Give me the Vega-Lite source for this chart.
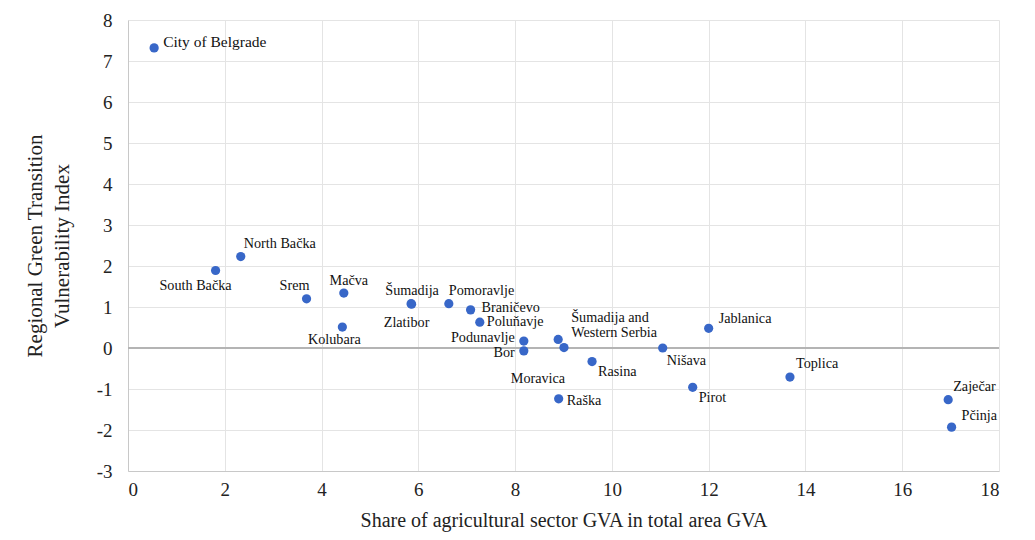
{
  "$schema": "https://vega.github.io/schema/vega-lite/v6.json",
  "width": 871,
  "height": 451,
  "autosize": "none",
  "padding": {"left": 128, "top": 20, "right": 36, "bottom": 69},
  "background": "white",
  "config": {
    "view": {"stroke": null},
    "font": "Liberation Serif",
    "text": {"font": "Liberation Serif", "fontSize": 14.2, "color": "#111"},
    "axis": {
      "labelFont": "Liberation Serif",
      "titleFont": "Liberation Serif",
      "labelColor": "#222",
      "titleColor": "#222",
      "titleFontWeight": "normal",
      "gridColor": "#e4e4e4",
      "domainColor": "#c8c8c8",
      "ticks": false
    }
  },
  "data": {
    "values": [
      {"name": "City of Belgrade", "x": 0.54, "y": 7.32},
      {"name": "North Bačka", "x": 2.33, "y": 2.23},
      {"name": "South Bačka", "x": 1.81, "y": 1.89},
      {"name": "Srem", "x": 3.69, "y": 1.2},
      {"name": "Mačva", "x": 4.46, "y": 1.34},
      {"name": "Kolubara", "x": 4.43, "y": 0.51},
      {"name": "Šumadija", "x": 5.85, "y": 1.08},
      {"name": "Zlatibor", "x": 5.86, "y": 1.07},
      {"name": "Pomoravlje", "x": 6.63, "y": 1.08},
      {"name": "Braničevo", "x": 7.08, "y": 0.93},
      {"name": "Poluňavje", "x": 7.27, "y": 0.63},
      {"name": "Podunavlje", "x": 8.18, "y": 0.17},
      {"name": "Bor", "x": 8.18, "y": -0.07},
      {"name": "Šumadija and\nWestern Serbia", "x": 8.89, "y": 0.21},
      {"name": "Moravica", "x": 9.01, "y": 0.01},
      {"name": "Raška", "x": 8.9, "y": -1.24},
      {"name": "Rasina", "x": 9.59, "y": -0.33},
      {"name": "Nišava", "x": 11.05, "y": 0.0},
      {"name": "Jablanica", "x": 12.0, "y": 0.48},
      {"name": "Pirot", "x": 11.67, "y": -0.96},
      {"name": "Toplica", "x": 13.68, "y": -0.71},
      {"name": "Zaječar", "x": 16.95, "y": -1.26},
      {"name": "Pčinja", "x": 17.02, "y": -1.93}
    ]
  },
  "encoding": {
    "x": {
      "field": "x", "type": "quantitative",
      "scale": {"domain": [0, 18], "nice": false, "zero": false},
      "axis": {"values": [0, 2, 4, 6, 8, 10, 12, 14, 16, 18], "labelFontSize": 19, "labelPadding": 9, "title": "Share of agricultural sector GVA in total area GVA", "titleFontSize": 20, "titlePadding": 11}
    },
    "y": {
      "field": "y", "type": "quantitative",
      "scale": {"domain": [-3, 8], "nice": false, "zero": false},
      "axis": {"values": [-3, -2, -1, 0, 1, 2, 3, 4, 5, 6, 7, 8], "labelExpr": "'' + datum.value", "labelFontSize": 19, "labelPadding": 16, "title": ["Regional Green Transition", "Vulnerability Index"], "titleFontSize": 21, "titlePadding": 24, "titleLineHeight": 27}
    }
  },
  "layer": [
    {"mark": {"type": "rule", "color": "#b5b5b5", "strokeWidth": 1.5}, "encoding": {"y": {"datum": 0}, "x": null}},
    {"mark": {"type": "circle", "size": 85, "color": "#3867c8", "opacity": 1}},
    {"transform": [{"filter": {"field": "name", "equal": "City of Belgrade"}}], "mark": {"type": "text", "align": "left", "baseline": "middle", "dx": 9, "dy": -6, "fontSize": 15.5}, "encoding": {"text": {"field": "name"}}},
    {"transform": [{"filter": {"field": "name", "equal": "North Bačka"}}], "mark": {"type": "text", "align": "left", "baseline": "middle", "dx": 3, "dy": -13}, "encoding": {"text": {"field": "name"}}},
    {"transform": [{"filter": {"field": "name", "equal": "South Bačka"}}], "mark": {"type": "text", "align": "right", "baseline": "middle", "dx": 16, "dy": 15}, "encoding": {"text": {"field": "name"}}},
    {"transform": [{"filter": {"field": "name", "equal": "Srem"}}], "mark": {"type": "text", "align": "right", "baseline": "middle", "dx": 3, "dy": -13}, "encoding": {"text": {"field": "name"}}},
    {"transform": [{"filter": {"field": "name", "equal": "Mačva"}}], "mark": {"type": "text", "align": "center", "baseline": "middle", "dx": 5, "dy": -12}, "encoding": {"text": {"field": "name"}}},
    {"transform": [{"filter": {"field": "name", "equal": "Kolubara"}}], "mark": {"type": "text", "align": "center", "baseline": "middle", "dx": -8, "dy": 13}, "encoding": {"text": {"field": "name"}}},
    {"transform": [{"filter": {"field": "name", "equal": "Šumadija"}}], "mark": {"type": "text", "align": "center", "baseline": "middle", "dx": 1, "dy": -13}, "encoding": {"text": {"field": "name"}}},
    {"transform": [{"filter": {"field": "name", "equal": "Zlatibor"}}], "mark": {"type": "text", "align": "center", "baseline": "middle", "dx": -5, "dy": 19}, "encoding": {"text": {"field": "name"}}},
    {"transform": [{"filter": {"field": "name", "equal": "Pomoravlje"}}], "mark": {"type": "text", "align": "left", "baseline": "middle", "dx": 0, "dy": -13}, "encoding": {"text": {"field": "name"}}},
    {"transform": [{"filter": {"field": "name", "equal": "Braničevo"}}], "mark": {"type": "text", "align": "left", "baseline": "middle", "dx": 11, "dy": -2}, "encoding": {"text": {"field": "name"}}},
    {"transform": [{"filter": {"field": "name", "equal": "Poluňavje"}}], "mark": {"type": "text", "align": "left", "baseline": "middle", "dx": 7, "dy": 0}, "encoding": {"text": {"field": "name"}}},
    {"transform": [{"filter": {"field": "name", "equal": "Podunavlje"}}], "mark": {"type": "text", "align": "right", "baseline": "middle", "dx": -9, "dy": -3}, "encoding": {"text": {"field": "name"}}},
    {"transform": [{"filter": {"field": "name", "equal": "Bor"}}], "mark": {"type": "text", "align": "right", "baseline": "middle", "dx": -9, "dy": 2}, "encoding": {"text": {"field": "name"}}},
    {"transform": [{"filter": {"field": "name", "equal": "Šumadija and\nWestern Serbia"}}], "mark": {"type": "text", "align": "left", "baseline": "middle", "dx": 13, "dy": -21, "lineBreak": "\n", "lineHeight": 15}, "encoding": {"text": {"field": "name"}}},
    {"transform": [{"filter": {"field": "name", "equal": "Moravica"}}], "mark": {"type": "text", "align": "center", "baseline": "middle", "dx": -26, "dy": 31}, "encoding": {"text": {"field": "name"}}},
    {"transform": [{"filter": {"field": "name", "equal": "Raška"}}], "mark": {"type": "text", "align": "left", "baseline": "middle", "dx": 8, "dy": 2}, "encoding": {"text": {"field": "name"}}},
    {"transform": [{"filter": {"field": "name", "equal": "Rasina"}}], "mark": {"type": "text", "align": "left", "baseline": "middle", "dx": 6, "dy": 10}, "encoding": {"text": {"field": "name"}}},
    {"transform": [{"filter": {"field": "name", "equal": "Nišava"}}], "mark": {"type": "text", "align": "left", "baseline": "middle", "dx": 4, "dy": 13}, "encoding": {"text": {"field": "name"}}},
    {"transform": [{"filter": {"field": "name", "equal": "Jablanica"}}], "mark": {"type": "text", "align": "left", "baseline": "middle", "dx": 10, "dy": -9}, "encoding": {"text": {"field": "name"}}},
    {"transform": [{"filter": {"field": "name", "equal": "Pirot"}}], "mark": {"type": "text", "align": "left", "baseline": "middle", "dx": 6, "dy": 11}, "encoding": {"text": {"field": "name"}}},
    {"transform": [{"filter": {"field": "name", "equal": "Toplica"}}], "mark": {"type": "text", "align": "left", "baseline": "middle", "dx": 6, "dy": -13}, "encoding": {"text": {"field": "name"}}},
    {"transform": [{"filter": {"field": "name", "equal": "Zaječar"}}], "mark": {"type": "text", "align": "left", "baseline": "middle", "dx": 5, "dy": -13}, "encoding": {"text": {"field": "name"}}},
    {"transform": [{"filter": {"field": "name", "equal": "Pčinja"}}], "mark": {"type": "text", "align": "left", "baseline": "middle", "dx": 10, "dy": -11}, "encoding": {"text": {"field": "name"}}}
  ]
}
